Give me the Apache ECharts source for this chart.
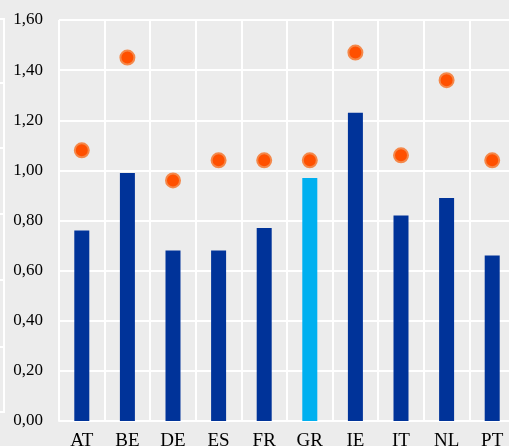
<!DOCTYPE html>
<html>
<head>
<meta charset="utf-8">
<script src="https://cdn.jsdelivr.net/npm/echarts@6/dist/echarts.min.js"></script>
<style>
html,body{margin:0;padding:0;background:#ececec;}
#c{width:509px;height:446px;}
</style>
</head>
<body>
<div id="c"></div>
<script>
const categories = ['AT','BE','DE','ES','FR','GR','IE','IT','NL','PT'];
const barValues = [0.76,0.99,0.68,0.68,0.77,0.97,1.23,0.82,0.89,0.66];
const dotValues = [1.08,1.45,0.96,1.04,1.04,1.04,1.47,1.06,1.36,1.04];
const highlightCategory = 'GR';
const yTicks = [0,0.2,0.4,0.6,0.8,1.0,1.2,1.4,1.6];

const chart = echarts.init(document.getElementById('c'), null, {renderer:'canvas'});
const font = '"Liberation Serif","DejaVu Serif",serif';
const barData = barValues.map((v,i)=>({
  value:v,
  itemStyle:{color: categories[i]===highlightCategory ? '#00b0f0' : '#003399'}
}));

chart.setOption({
  backgroundColor:'#ececec',
  animation:false,
  grid:{left:59, top:20, width:456, height:401, containLabel:false, outerBoundsMode:'none'},
  graphic:[
    {type:'polyline', silent:true, shape:{points:[[0,19],[4,19],[4,412],[0,412]]}, style:{stroke:'#ffffff', lineWidth:2, fill:null}},
    {type:'line', silent:true, shape:{x1:0,y1:83,x2:4,y2:83}, style:{stroke:'#ffffff', lineWidth:2}},
    {type:'line', silent:true, shape:{x1:0,y1:148,x2:4,y2:148}, style:{stroke:'#ffffff', lineWidth:2}},
    {type:'line', silent:true, shape:{x1:0,y1:214,x2:4,y2:214}, style:{stroke:'#ffffff', lineWidth:2}},
    {type:'line', silent:true, shape:{x1:0,y1:280,x2:4,y2:280}, style:{stroke:'#ffffff', lineWidth:2}},
    {type:'line', silent:true, shape:{x1:0,y1:347,x2:4,y2:347}, style:{stroke:'#ffffff', lineWidth:2}}
  ],
  xAxis:{
    type:'category',
    data:categories,
    boundaryGap:true,
    axisLine:{show:true, lineStyle:{color:'#ffffff', width:2}},
    axisTick:{show:false},
    splitLine:{show:true, lineStyle:{color:'#ffffff', width:2}},
    axisLabel:{color:'#000000', fontFamily:font, fontSize:19, margin:11, interval:0}
  },
  yAxis:{
    type:'value',
    min:yTicks[0], max:yTicks[yTicks.length-1], interval:0.2,
    axisLine:{show:false},
    axisTick:{show:false},
    splitLine:{show:true, lineStyle:{color:'#ffffff', width:2}},
    axisLabel:{color:'#000000', fontFamily:font, fontSize:17, margin:16,
      formatter:v=>v.toFixed(2).replace('.',',')}
  },
  series:[
    {type:'bar', data:barData, barWidth:15, z:2},
    {type:'scatter', data:dotValues, symbol:'circle', symbolSize:14, z:3,
     itemStyle:{color:'#ff5000', borderColor:'#f4884a', borderWidth:2, opacity:1}}
  ]
});
</script>
</body>
</html>
